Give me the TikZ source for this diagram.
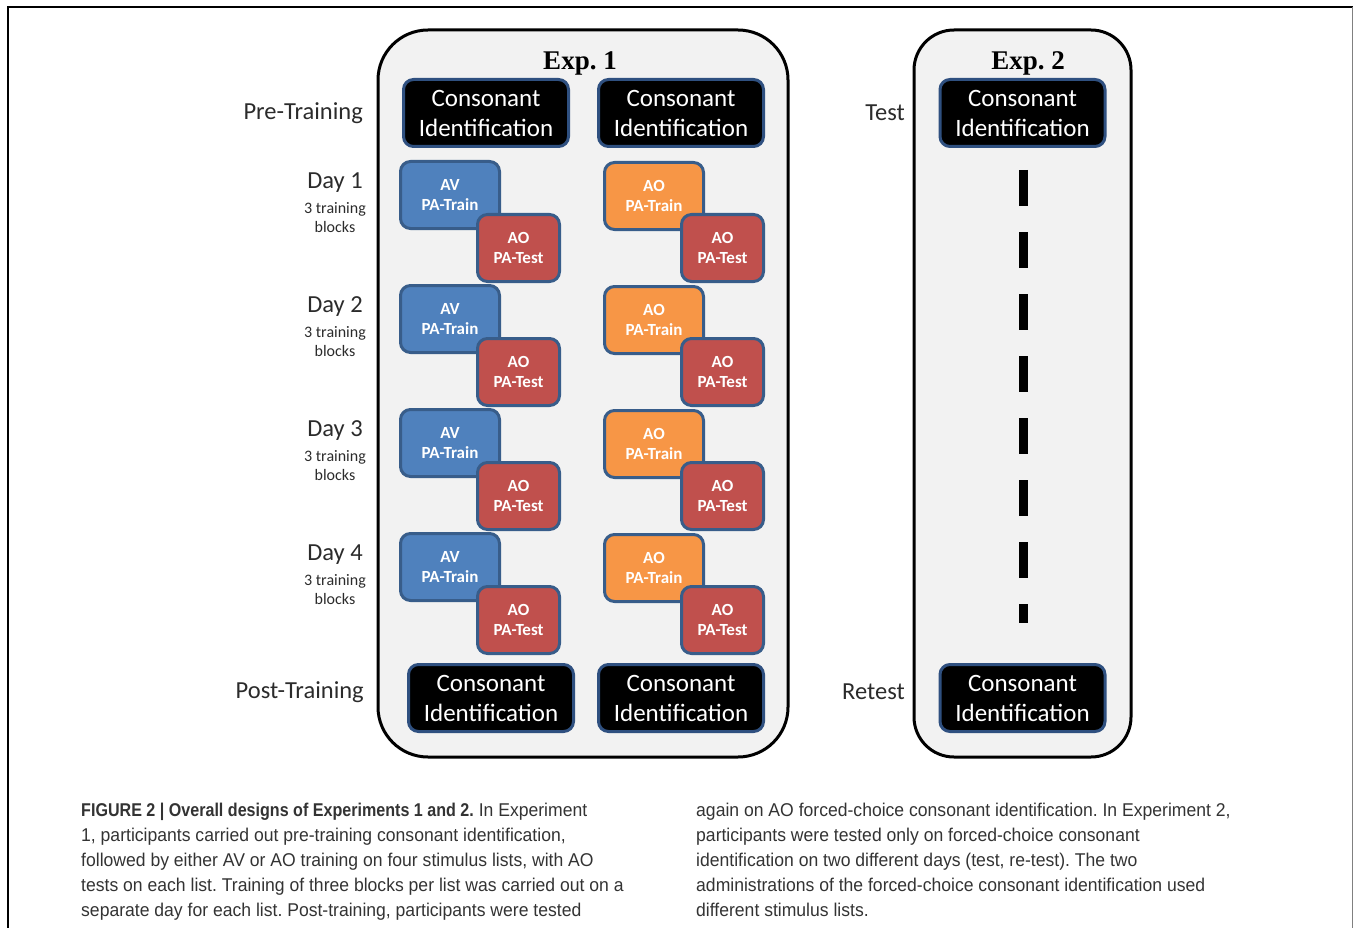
\documentclass[tikz,border=0pt]{standalone}
\usepackage{fontspec}
\setmainfont{Carlito}
\newfontfamily\capfont{Liberation Sans}[FakeStretch=0.95]
\newfontfamily\capboldfont{Liberation Sans}[FakeStretch=0.87]
\newfontfamily\expfont{Liberation Serif}
\definecolor{panelbg}{HTML}{F2F2F2}
\definecolor{avblue}{HTML}{4F81BD}
\definecolor{aored}{HTML}{C0504D}
\definecolor{aoorange}{HTML}{F79646}
\definecolor{edgeblue}{HTML}{385D8A}
\definecolor{cidedge}{HTML}{2F5080}
\definecolor{lbltext}{HTML}{2B2B2B}
\definecolor{captext}{HTML}{333333}
\begin{document}
\frenchspacing
\begin{tikzpicture}[x=1pt,y=-1pt,
  panel/.style={draw=black, line width=3pt, fill=panelbg},
  cidbox/.style={draw=cidedge, line width=3pt, fill=black, rounded corners=10pt,
    minimum width=165pt, minimum height=67pt, inner sep=0pt, align=center,
    text=white, font=\fontsize{25}{30}\selectfont},
  smallbox/.style={line width=3pt, rounded corners=10pt, minimum height=67pt,
    inner sep=0pt, align=center, text=white, font=\bfseries\fontsize{17}{19.5}\selectfont},
  avtrain/.style={smallbox, draw=edgeblue, fill=avblue, minimum width=99pt},
  aotrain/.style={smallbox, draw=edgeblue, fill=aoorange, minimum width=99pt},
  aotest/.style={smallbox, draw=edgeblue, fill=aored, minimum width=82pt},
  phase/.style={anchor=east, inner sep=0pt, text=lbltext, font=\fontsize{24.5}{24.5}\selectfont},
  daytitle/.style={inner sep=0pt, text=lbltext, font=\fontsize{24.5}{24.5}\selectfont},
  daysub/.style={inner sep=0pt, align=center, text=lbltext, font=\fontsize{16}{19}\selectfont},
  exptitle/.style={inner sep=0pt, font=\expfont\bfseries\fontsize{27}{27}\selectfont},
  caption/.style={anchor=north west, inner sep=0pt, align=left, text=captext,
    font=\capfont\fontsize{18.5}{25}\selectfont}
]
\useasboundingbox (0,0) rectangle (1354,928);
% outer frame
\draw[line width=1.2pt, black] (8,928) -- (8,7) -- (1352.5,7);
\draw[line width=1.2pt, gray] (1352.5,7) -- (1352.5,928);

% panels
\draw[panel, rounded corners=50pt] (378,30) rectangle (788,757);
\draw[panel, rounded corners=40pt] (914,30) rectangle (1131,757);

\node[exptitle] (e1) at (580,63) {Exp. 1};
\node[exptitle] (e2) at (1028,63) {Exp. 2};

% consonant identification boxes
\node[cidbox] (c1) at (486,113) {Consonant\\Identification};
\node[cidbox] (c2) at (681,113) {Consonant\\Identification};
\node[cidbox] (c3) at (1022.5,113) {Consonant\\Identification};
\node[cidbox] (c4) at (491,698) {Consonant\\Identification};
\node[cidbox] (c5) at (681,698) {Consonant\\Identification};
\node[cidbox] (c6) at (1022.5,698) {Consonant\\Identification};

% phase labels
\node[phase] (pre) at (363,113) {Pre-Training};
\node[phase] (post) at (364,692) {Post-Training};
\node[phase] (test) at (905,113) {Test};
\node[phase] (retest) at (905,692) {Retest};

% days
\foreach \k/\d in {0/1,1/2,2/3,3/4}{
  \node[daytitle] (day\d) at (335,{183+124*\k}) {Day \d};
  \node[daysub] (sub\d) at (335,{218+124*\k}) {3 training\\blocks};
  \node[avtrain] (av\d) at (450,{195+124*\k}) {AV\\PA-Train};
  \node[aotest] (ta\d) at (518.5,{248+124*\k}) {AO\\PA-Test};
  \node[aotrain] (ao\d) at (654,{196+124*\k}) {AO\\PA-Train};
  \node[aotest] (tb\d) at (722.5,{248+124*\k}) {AO\\PA-Test};
}

% Exp 2 dashed line
\coordinate (dtop) at (1023,170);
\coordinate (dbot) at (1023,623);
\draw[line width=9pt, dash pattern=on 36pt off 26pt] (dtop) -- (dbot);

% caption
\node[caption] (capL) at (81,803) {{\capboldfont\bfseries FIGURE 2 | Overall designs of Experiments 1 and 2.} In Experiment\\
1, participants carried out pre-training consonant identification,\\
followed by either AV or AO training on four stimulus lists, with AO\\
tests on each list. Training of three blocks per list was carried out on a\\
separate day for each list. Post-training, participants were tested};
\node[caption] (capR) at (696,803) {again on AO forced-choice consonant identification. In Experiment 2,\\
participants were tested only on forced-choice consonant\\
identification on two different days (test, re-test). The two\\
administrations of the forced-choice consonant identification used\\
different stimulus lists.};
\end{tikzpicture}
\end{document}
